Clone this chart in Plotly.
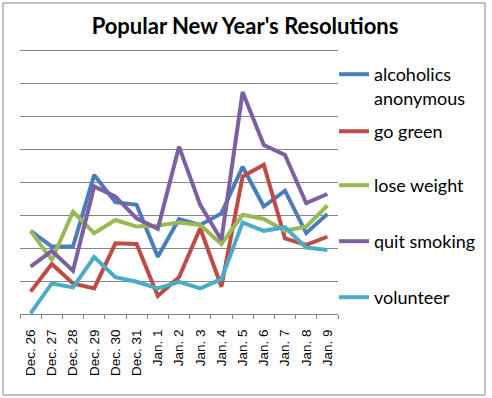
import plotly.graph_objects as go

categories = ["Dec. 26", "Dec. 27", "Dec. 28", "Dec. 29", "Dec. 30", "Dec. 31",
              "Jan. 1", "Jan. 2", "Jan. 3", "Jan. 4", "Jan. 5", "Jan. 6",
              "Jan. 7", "Jan. 8", "Jan. 9"]

alcoholics_anonymous = [2.53, 2.05, 2.05, 4.23, 3.40, 3.32, 1.74, 2.89, 2.71, 3.06, 4.48, 3.27, 3.75, 2.46, 3.04]
go_green = [0.68, 1.52, 0.93, 0.78, 2.15, 2.13, 0.55, 1.12, 2.61, 0.83, 4.18, 4.54, 2.30, 2.10, 2.35]
lose_weight = [2.53, 1.64, 3.11, 2.46, 2.86, 2.66, 2.69, 2.78, 2.71, 2.13, 3.02, 2.89, 2.53, 2.66, 3.30]
quit_smoking = [1.44, 1.92, 1.32, 3.88, 3.57, 2.91, 2.59, 5.09, 3.32, 2.25, 6.75, 5.14, 4.84, 3.37, 3.65]
volunteer = [0.02, 0.93, 0.81, 1.73, 1.12, 0.98, 0.78, 0.98, 0.78, 1.06, 2.78, 2.53, 2.64, 2.02, 1.95]

series_names = ["alcoholics<br>anonymous", "go green", "lose weight", "quit smoking", "volunteer"]
series_values = [alcoholics_anonymous, go_green, lose_weight, quit_smoking, volunteer]
colors = ["#4A7EBB", "#BE4B48", "#98B954", "#7D60A0", "#4BACC6"]

# figure & plot area in pixels (paper == whole figure, margins zero)
W, H = 492, 398
L, R, T, B = 20, 338, 51, 314
Y_MAX, Y_TOP = 8, 8.15
T_DOM = B - Y_TOP * (B - T) / Y_MAX

def fx(x):
    return x / W

def fy(y):
    return 1 - y / H

legend_text_y = [75, 132, 186, 242, 298]

fig = go.Figure()
for i, (name, vals, col) in enumerate(zip(series_names, series_values, colors)):
    lg = "legend" if i == 0 else f"legend{i+1}"
    fig.add_trace(go.Scatter(
        x=categories, y=vals, mode="lines", name=name,
        line=dict(color=col, width=4),
        legend=lg,
    ))

legend_font = dict(family="Lato, Carlito, sans-serif", size=18, color="#000000")
layout_legends = {}
for i, ty in enumerate(legend_text_y):
    key = "legend" if i == 0 else f"legend{i+1}"
    layout_legends[key] = dict(
        x=fx(334), y=fy(ty - 19), xanchor="left", yanchor="top",
        font=legend_font, bgcolor="rgba(0,0,0,0)", itemwidth=30,
        valign="top", tracegroupgap=0,
    )

fig.update_layout(
    width=W, height=H,
    margin=dict(l=0, r=0, t=0, b=0, pad=0),
    paper_bgcolor="white", plot_bgcolor="white",
    title=dict(text="<b>Popular New Year's Resolutions</b>",
               xref="paper", yref="paper",
               x=fx(245), xanchor="center", y=fy(26), yanchor="middle",
               font=dict(family="Lato, Carlito, sans-serif", size=22, color="#000000")),
    showlegend=True,
    **layout_legends,
    xaxis=dict(
        domain=[fx(L), fx(R)], automargin=False,
        type="category", tickangle=-90, tickson="boundaries",
        ticks="outside", ticklen=4, tickcolor="#868686",
        showline=True, linecolor="#868686", linewidth=1,
        showgrid=False, zeroline=False, ticklabelstandoff=9,
        tickfont=dict(family="Liberation Sans, Arial, sans-serif", size=13.5, color="#000000"),
        range=[-0.5, len(categories) - 0.5],
    ),
    yaxis=dict(
        domain=[fy(B), fy(T_DOM)], automargin=False,
        range=[0, Y_TOP], tick0=0, dtick=1, showticklabels=False,
        showgrid=True, gridcolor="#868686", gridwidth=1,
        zeroline=False, showline=False, ticks="",
    ),
    shapes=[dict(type="rect", xref="paper", yref="paper",
                 x0=fx(3), x1=fx(485), y0=fy(395), y1=fy(3),
                 line=dict(color="#868686", width=1), fillcolor="rgba(0,0,0,0)",
                 layer="below")],
)

fig.write_html("out.html", config={"displayModeBar": False},
               post_script="document.body.style.margin='0';")
